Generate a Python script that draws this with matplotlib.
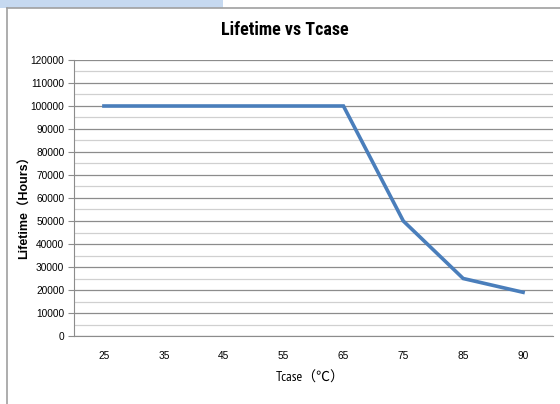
import matplotlib.pyplot as plt
from matplotlib.patches import Rectangle
from matplotlib.lines import Line2D
import numpy as np

tcase = ['25', '35', '45', '55', '65', '75', '85', '90']
lifetime = [100000, 100000, 100000, 100000, 100000, 50000, 25000, 19000]
yticks = list(range(0, 120001, 10000))

W, H = 560, 404
fig = plt.figure(figsize=(W / 100, H / 100), dpi=100)

# plot area in pixels: left 74, right 553, top 60, bottom 336
ax = fig.add_axes([74 / W, 1 - 336 / H, (553 - 74) / W, (336 - 60) / H])

x = np.arange(len(tcase))
ax.plot(x, lifetime, color='#4a7ebb', lw=2.6, solid_joinstyle='miter', zorder=3)

ax.set_xlim(-0.5, len(tcase) - 0.5)
ax.set_ylim(0, 120000)
ax.set_yticks(yticks)
ax.set_yticklabels([str(v) for v in yticks])
ax.set_yticks(range(5000, 120000, 10000), minor=True)
ax.set_xticks(x)
ax.set_xticklabels(tcase)

ax.grid(axis='y', which='major', color='#8c8c8c', lw=0.9, zorder=1)
ax.grid(axis='y', which='minor', color='#d0d0d0', lw=0.9, zorder=1)

for s in ['top', 'right']:
    ax.spines[s].set_visible(False)
ax.spines['left'].set_color('#8c8c8c')
ax.spines['bottom'].set_color('#8c8c8c')
ax.tick_params(axis='y', which='major', length=4, color='#8c8c8c', pad=3)
ax.tick_params(axis='y', which='minor', length=0)
ax.tick_params(axis='x', length=0, pad=11)
for lab in ax.get_xticklabels() + ax.get_yticklabels():
    lab.set_family('Liberation Sans')
    lab.set_fontsize(7.3)

fig.text(284.5 / W, 1 - 30 / H, 'Lifetime vs Tcase', ha='center', va='center',
         fontsize=13, fontweight='bold', family=['Roboto Condensed', 'DejaVu Sans'])
fig.text(25 / W, 1 - 204 / H, 'Lifetime（Hours）', ha='center', va='center', rotation=90,
         fontsize=9, fontweight='bold', family=['Liberation Sans', 'Noto Sans CJK SC'])
fig.text(310 / W, 1 - 378 / H, 'Tcase（℃）', ha='center', va='center',
         fontsize=10, family=['PT Sans Narrow', 'Noto Sans CJK SC'])

# chart frame and blue strip at top left
fig.add_artist(Line2D([6.5 / W, 6.5 / W], [0, 1 - 7.5 / H], color='#a0a0a0', lw=1.2))
fig.add_artist(Line2D([6.5 / W, 1], [1 - 7.5 / H, 1 - 7.5 / H], color='#a0a0a0', lw=1.2))
fig.add_artist(Rectangle((0, 1 - 8 / H), 223 / W, 8 / H, transform=fig.transFigure,
                         color='#c6d9f0', lw=0))

fig.savefig('out.png', dpi=100)
